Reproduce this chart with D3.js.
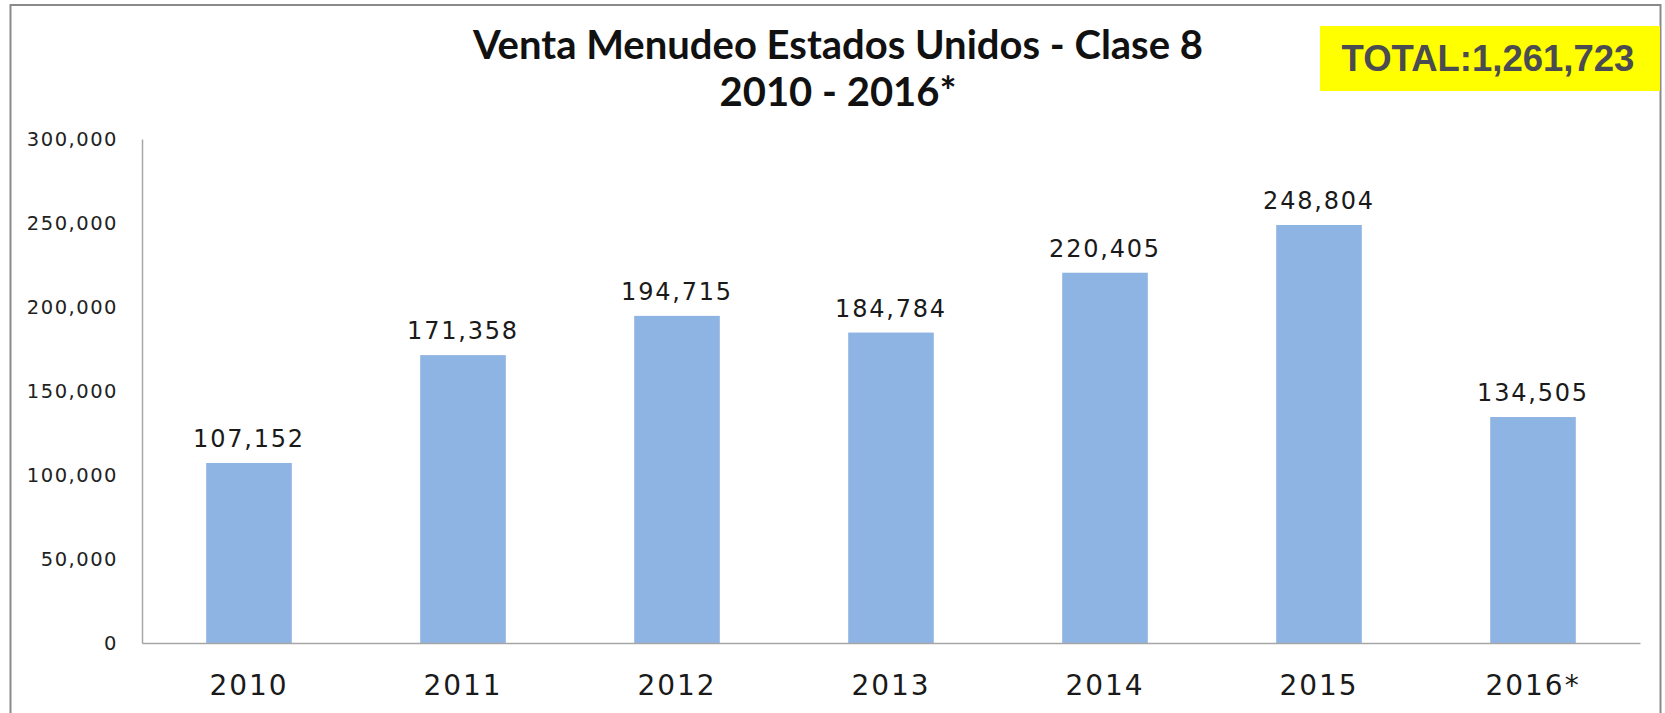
<!DOCTYPE html>
<html>
<head>
<meta charset="utf-8">
<script src="https://cdn.jsdelivr.net/npm/d3@7"></script>
<style>
  body { margin: 0; background: #fff; }
</style>
</head>
<body>
<div id="chart"></div>
<script>
// yearly retail sales, class 8
const years = ["2010", "2011", "2012", "2013", "2014", "2015", "2016*"];
const sales = [107152, 171358, 194715, 184784, 220405, 248804, 134505];
const yTicks = [0, 50000, 100000, 150000, 200000, 250000, 300000];
const titleLines = ["Venta Menudeo Estados Unidos - Clase 8", "2010 - 2016*"];
const totalLabel = "TOTAL:1,261,723";

const width = 1665;
const height = 713;
const margin = { top: 139, right: 25, bottom: 70, left: 142 };

const svg = d3.select("#chart")
    .append("svg")
    .attr("width", width)
    .attr("height", height);

// frame round the slide
svg.append("rect")
    .attr("x", 10.5)
    .attr("y", 5)
    .attr("width", 1650)
    .attr("height", 720)
    .attr("fill", "none")
    .attr("stroke", "#8a8a8a")
    .attr("stroke-width", 2);

const xScale = d3.scaleBand()
    .domain(years)
    .range([margin.left, width - margin.right])
    .paddingInner(0.6)
    .paddingOuter(0.3);

const yScale = d3.scaleLinear()
    .domain([0, 300000])
    .range([height - margin.bottom, margin.top]);

const fmt = d3.format(",");

// bars
svg.selectAll("rect.bar")
    .data(sales)
    .enter()
    .append("rect")
    .attr("class", "bar")
    .attr("x", (d, i) => xScale(years[i]))
    .attr("y", d => yScale(d))
    .attr("width", xScale.bandwidth())
    .attr("height", d => yScale(0) - yScale(d))
    .attr("fill", "#8eb4e3");

// value labels
svg.selectAll("text.value")
    .data(sales)
    .enter()
    .append("text")
    .attr("class", "value")
    .attr("x", (d, i) => xScale(years[i]) + xScale.bandwidth() / 2)
    .attr("y", d => yScale(d) - 16)
    .attr("text-anchor", "middle")
    .attr("font-family", "DejaVu Sans")
    .attr("font-size", "24px")
    .attr("letter-spacing", "1.8px")
    .attr("fill", "#1a1a1a")
    .text(d => fmt(d));

// y-axis
const yAxis = svg.append("g")
    .attr("transform", `translate(${margin.left},0)`)
    .call(d3.axisLeft(yScale).tickValues(yTicks).tickFormat(fmt).tickSize(0).tickPadding(24));
yAxis.select(".domain").attr("stroke", "#a6a6a6").attr("stroke-width", 1.5);
yAxis.selectAll("text")
    .attr("font-family", "DejaVu Sans")
    .attr("font-size", "19.5px")
    .attr("letter-spacing", "1.5px")
    .attr("fill", "#222");

// x-axis
const xAxis = svg.append("g")
    .attr("transform", `translate(0,${height - margin.bottom})`)
    .call(d3.axisBottom(xScale).tickSize(0).tickPadding(32));
xAxis.select(".domain").attr("stroke", "#a6a6a6").attr("stroke-width", 1.5);
xAxis.selectAll("text")
    .attr("font-family", "DejaVu Sans")
    .attr("font-size", "28px")
    .attr("letter-spacing", "2px")
    .attr("fill", "#1a1a1a");

// title
svg.selectAll("text.title")
    .data(titleLines)
    .enter()
    .append("text")
    .attr("class", "title")
    .attr("x", 838)
    .attr("y", (d, i) => 59 + i * 47)
    .attr("text-anchor", "middle")
    .attr("font-family", "Lato")
    .attr("font-weight", "bold")
    .attr("font-size", "40px")
    .attr("fill", "#111")
    .text(d => d);

// total box
svg.append("rect")
    .attr("x", 1320)
    .attr("y", 26)
    .attr("width", 340)
    .attr("height", 65)
    .attr("fill", "#ffff00");

svg.append("text")
    .attr("x", 1488)
    .attr("y", 71)
    .attr("text-anchor", "middle")
    .attr("font-family", "Liberation Sans")
    .attr("font-weight", "bold")
    .attr("font-size", "36.5px")
    .attr("fill", "#4b4b52")
    .text(totalLabel);
</script>
</body>
</html>
